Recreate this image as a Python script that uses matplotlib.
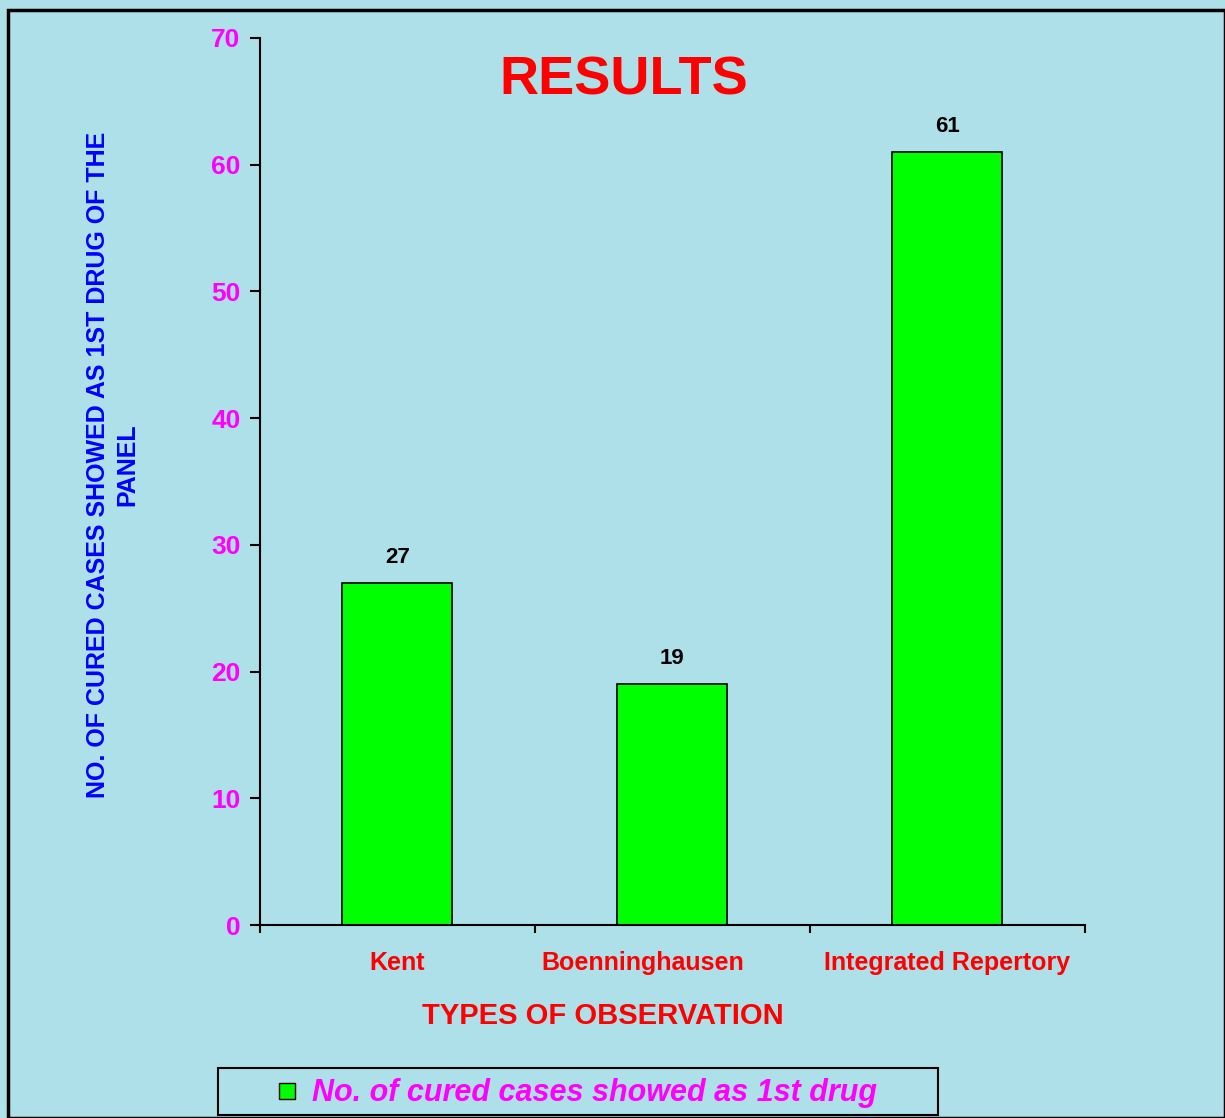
import matplotlib.pyplot as plt
from matplotlib.patches import Rectangle
from matplotlib.lines import Line2D
from matplotlib.transforms import ScaledTranslation

# data
kategorien = ['Kent', 'Boenninghausen', 'Integrated Repertory']
werte = [27, 19, 61]
serie = 'No. of cured cases showed as 1st drug'

bg = '#ade0e8'
plt.rcParams['font.family'] = ['Liberation Sans', 'DejaVu Sans']
plt.rcParams['font.weight'] = 'bold'

fig = plt.figure(figsize=(12.25, 11.18), dpi=100, facecolor=bg)
ax = fig.add_axes([0.2122, 0.1726, 0.6735, 0.7936])
ax.set_facecolor('none')

x = list(range(len(kategorien)))
bars = ax.bar(x, werte, width=0.4, color='#00ff00', edgecolor='black', linewidth=1.2)

for xi, w in zip(x, werte):
    ax.annotate(str(w), (xi, w), xytext=(0, 11), textcoords='offset points',
                ha='center', va='bottom', fontsize=16, fontweight='bold', color='black')

ax.set_xlim(-0.5, len(kategorien) - 0.5)
ax.set_ylim(0, 70)
ax.set_yticks(range(0, 71, 10))
ax.tick_params(axis='y', colors='black', labelcolor='#ff00ff', labelsize=19,
               length=7, width=1.5, pad=7)
ax.set_xticks(x)
ax.set_xticklabels(kategorien, color='red', fontsize=18, fontweight='bold')
ax.tick_params(axis='x', which='major', length=0, pad=19)
ax.set_xticks([i - 0.5 for i in range(len(kategorien) + 1)], minor=True)
ax.tick_params(axis='x', which='minor', length=6, width=1.5, direction='out')
for lab in ax.get_yticklabels():
    lab.set_fontweight('bold')
# mittleres Label sitzt im Original etwas weiter links
mid = ax.get_xticklabels()[1]
mid.set_transform(mid.get_transform() + ScaledTranslation(-0.3, 0, fig.dpi_scale_trans))

for s in ['top', 'right']:
    ax.spines[s].set_visible(False)
ax.spines['left'].set_linewidth(1.5)
ax.spines['bottom'].set_linewidth(1.5)

fig.text(0.509, 0.928, 'RESULTS', ha='center', va='center', color='red',
         fontsize=39, fontweight='bold')
fig.text(0.492, 0.091, 'TYPES OF OBSERVATION', ha='center', va='center',
         color='red', fontsize=21, fontweight='bold')
fig.text(0.092, 0.584, 'NO. OF CURED CASES SHOWED AS 1ST DRUG OF THE\nPANEL',
         rotation=90, ha='center', va='center', multialignment='center',
         color='#0000ff', fontsize=18, fontweight='bold', linespacing=1.3)

# legend box
fig.patches.append(Rectangle((218 / 1225, 3 / 1118), 720 / 1225, 47 / 1118,
                             transform=fig.transFigure, fill=False,
                             edgecolor='black', linewidth=1.5))
handle = Line2D([], [], marker='s', linestyle='none', markersize=12,
                markerfacecolor='#00ff00', markeredgecolor='black')
fig.legend([handle], [serie], loc='center', bbox_to_anchor=(0.470, 0.0220),
           frameon=False, handlelength=0.8, handletextpad=0.4,
           prop={'size': 22, 'weight': 'bold', 'style': 'italic'},
           labelcolor='#ff00ff')

# outer frame
fig.patches.append(Rectangle((8 / 1225, 0), 1 - 8 / 1225, 1 - 10 / 1118,
                             transform=fig.transFigure, fill=False,
                             edgecolor='black', linewidth=2.5))

fig.savefig('out.png', dpi=100, facecolor=bg)
